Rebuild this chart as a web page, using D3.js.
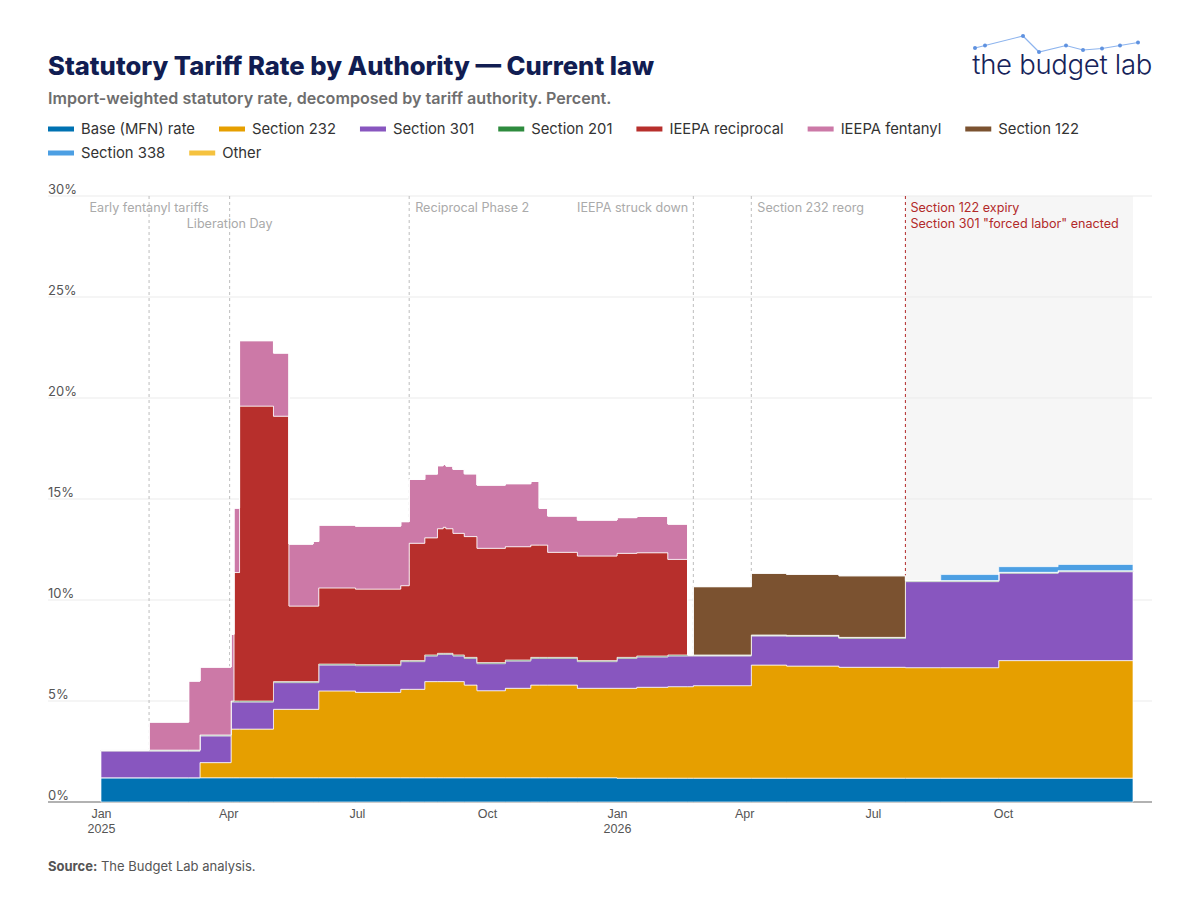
<!DOCTYPE html>
<html>
<head>
<meta charset="utf-8">
<script src="https://cdn.jsdelivr.net/npm/d3@7"></script>
<style>
  body { margin: 0; background: #fff; }
  svg { font-family: Inter, "Noto Sans", sans-serif; }
</style>
</head>
<body>
<div id="chart"></div>
<script>
// step dates (each value holds until the next date)
var dates = ["2025-01-01","2025-02-04","2025-03-04","2025-03-12","2025-04-03","2025-04-05","2025-04-09",
  "2025-05-03","2025-05-14","2025-05-31","2025-06-04","2025-06-30","2025-08-01","2025-08-07","2025-08-18",
  "2025-08-27","2025-08-31","2025-09-02","2025-09-07","2025-09-15","2025-09-24","2025-10-14","2025-11-01",
  "2025-11-07","2025-11-13","2025-12-04","2026-01-01","2026-01-15","2026-02-06","2026-02-20","2026-02-24",
  "2026-04-06","2026-05-01","2026-06-07","2026-07-24","2026-08-18","2026-09-28","2026-11-09","2027-01-01"];

var baseRate = [1.2,1.2,1.2,1.2,1.2,1.2,1.2,1.2,1.2,1.2,1.2,1.2,1.2,1.2,1.2,1.2,1.2,1.2,1.2,1.2,1.2,1.2,1.2,1.2,1.2,1.2,
  1.18,1.18,1.18,1.18,1.18,1.18,1.18,1.18,1.18,1.18,1.18,1.18,1.18];
var sec232 = [0,0,0,0.75,2.41,2.41,2.41,3.39,3.39,3.39,4.3,4.23,4.38,4.38,4.76,4.76,4.76,4.76,4.76,4.59,4.31,4.43,4.59,
  4.59,4.59,4.43,4.45,4.5,4.53,4.53,4.58,5.6,5.55,5.49,5.47,5.47,5.82,5.82,5.82];
var sec301 = [1.32,1.32,1.32,1.32,1.34,1.34,1.34,1.32,1.32,1.32,1.28,1.32,1.37,1.37,1.27,1.35,1.35,1.35,1.27,1.32,1.34,
  1.35,1.32,1.32,1.32,1.32,1.48,1.5,1.52,1.52,1.47,1.44,1.47,1.43,4.26,4.26,4.32,4.4,4.4];
var sec201 = [0.05,0.05,0.05,0.05,0.05,0.05,0.05,0.05,0.05,0.05,0.05,0.05,0.05,0.05,0.05,0.05,0.05,0.05,0.05,0.05,0.05,
  0.05,0.05,0.05,0.05,0.05,0.05,0.05,0.05,0.05,0.05,0.05,0.05,0.05,0.05,0.05,0.05,0.05,0.05];
var ieepaRecip = [0,0,0,0,0,6.36,14.6,13.14,3.74,3.74,3.77,3.74,3.71,5.81,5.8,6.17,6.24,6.17,6.02,5.98,5.66,5.61,5.56,
  5.56,5.2,5.18,5.15,5.11,4.73,0,0,0,0,0,0,0,0,0,0];
var ieepaFent = [0,1.39,3.42,3.36,3.3,3.19,3.24,3.13,3.07,3.2,3.11,3.12,3.17,3.16,3.16,3.12,3.11,3.1,3.17,3.11,3.13,3.12,
  3.15,1.82,1.8,1.78,1.77,1.8,1.75,0,0,0,0,0,0,0,0,0,0];
var sec122 = [0,0,0,0,0,0,0,0,0,0,0,0,0,0,0,0,0,0,0,0,0,0,0,0,0,0,0,0,0,0,3.38,3.05,3.02,3.05,0,0,0,0,0];
var sec338 = [0,0,0,0,0,0,0,0,0,0,0,0,0,0,0,0,0,0,0,0,0,0,0,0,0,0,0,0,0,0,0,0,0,0,0,0.3,0.28,0.31,0.31];
var other = [0,0,0,0,0,0,0,0,0,0,0,0,0,0,0,0,0,0,0,0,0,0,0,0,0,0,0,0,0,0,0,0,0,0,0,0,0,0,0];

var seriesKeys = ["base","s232","s301","s201","recip","fent","s122","s338","other"];
var seriesNames = ["Base (MFN) rate","Section 232","Section 301","Section 201","IEEPA reciprocal",
  "IEEPA fentanyl","Section 122","Section 338","Other"];
var seriesColors = ["#0072B2","#E69F00","#8856BF","#2E8B3E","#B72F2C","#CC79A7","#7B5230","#4C9FE3","#F5C23F"];

var yTicks = [0,5,10,15,20,25,30];
var xTicks = ["2025-01-01","2025-04-01","2025-07-01","2025-10-01","2026-01-01","2026-04-01","2026-07-01","2026-10-01"];

var eventDates = ["2025-02-04","2025-04-02","2025-08-07","2026-02-24","2026-04-06","2026-07-24"];
var eventLabels = [["Early fentanyl tariffs"],["Liberation Day"],["Reciprocal Phase 2"],["IEEPA struck down"],
  ["Section 232 reorg"],["Section 122 expiry","Section 301 \"forced labor\" enacted"]];

var logoPoints = [[0,12],[10,9.5],[48,0],[64,16],[91,9.5],[108,14],[127,12.5],[145,9.5],[163,6.5]];

var width = 1200, height = 900;
var left = 48, right = 1152;

var svg = d3.select("#chart").append("svg")
  .attr("width", width)
  .attr("height", height);

var parse = d3.timeParse("%Y-%m-%d");
var cols = [baseRate, sec232, sec301, sec201, ieepaRecip, ieepaFent, sec122, sec338, other];

var rows = dates.map((d, i) => {
  var r = { date: parse(d) };
  seriesKeys.forEach((k, j) => { r[k] = cols[j][i]; });
  return r;
});

var x = d3.scaleTime()
  .domain([parse("2025-01-01"), parse("2027-01-01")])
  .range([101, 1133]);

var y = d3.scaleLinear()
  .domain([0, 30])
  .range([802, 196]);

var color = d3.scaleOrdinal().domain(seriesKeys).range(seriesColors);

// forecast shading after last event
svg.append("rect")
  .attr("x", x(parse(eventDates[5])))
  .attr("y", y(30))
  .attr("width", x(parse("2027-01-01")) - x(parse(eventDates[5])))
  .attr("height", y(0) - y(30))
  .attr("fill", "#f6f6f6");

// gridlines + y labels
svg.selectAll(".grid")
  .data(yTicks.filter(d => d > 0))
  .enter().append("line")
  .attr("x1", left).attr("x2", right)
  .attr("y1", d => y(d)).attr("y2", d => y(d))
  .attr("stroke", "#ebebeb").attr("stroke-width", 1);

svg.selectAll(".ylab")
  .data(yTicks)
  .enter().append("text")
  .attr("x", left)
  .attr("y", d => y(d) - 2)
  .attr("font-size", 13)
  .attr("fill", "#555")
  .text(d => d + "%");

// axis baseline
svg.append("line")
  .attr("x1", left).attr("x2", right)
  .attr("y1", y(0)).attr("y2", y(0))
  .attr("stroke", "#999").attr("stroke-width", 1.5);

// event lines
var ev = svg.append("g");
eventDates.forEach((d, i) => {
  var red = i == 5;
  ev.append("line")
    .attr("x1", x(parse(d))).attr("x2", x(parse(d)))
    .attr("y1", y(30)).attr("y2", y(0))
    .attr("stroke", red ? "#b22a2a" : "#bdbdbd")
    .attr("stroke-width", 1)
    .attr("stroke-dasharray", "3,3");
});

// stacked areas
var stack = d3.stack().keys(seriesKeys);
var layers = stack(rows);

var area = d3.area()
  .curve(d3.curveStepAfter)
  .x(d => x(d.data.date))
  .y0(d => y(d[0]))
  .y1(d => y(d[1]));

svg.append("g").selectAll("path")
  .data(layers.filter(l => l.some(d => d[1] - d[0] > 0)))
  .enter().append("path")
  .attr("d", area)
  .attr("fill", d => color(d.key))
  .attr("stroke", d => d.key == "s201" ? "#cfcfcf" : "#fff")
  .attr("stroke-opacity", 0.85)
  .attr("stroke-width", 0.8);

// event labels
var labelPlace = [
  { anchor: "middle", dx: 0, row: 0 },
  { anchor: "middle", dx: 0, row: 1 },
  { anchor: "start", dx: 6, row: 0 },
  { anchor: "end", dx: -5, row: 0 },
  { anchor: "start", dx: 6, row: 0 },
  { anchor: "start", dx: 5, row: 0 }
];
eventDates.forEach((d, i) => {
  var p = labelPlace[i];
  eventLabels[i].forEach((t, j) => {
    ev.append("text")
      .attr("x", x(parse(d)) + p.dx)
      .attr("y", 212 + (p.row + j) * 16)
      .attr("text-anchor", p.anchor)
      .attr("font-size", 12.6)
      .attr("fill", i == 5 ? "#b22a2a" : "#aaaaaa")
      .text(t);
  });
});

// x axis
var xAxis = d3.axisBottom(x)
  .tickValues(xTicks.map(parse))
  .tickSize(0)
  .tickFormat(d3.timeFormat("%b"));

var gx = svg.append("g")
  .attr("transform", "translate(0," + y(0) + ")")
  .call(xAxis);
gx.select(".domain").remove();
gx.selectAll("text")
  .attr("font-family", null)
  .attr("font-size", 12.5)
  .attr("fill", "#555")
  .attr("dy", null)
  .attr("y", 16)
  .each(function(d) {
    if (d.getMonth() == 0) {
      d3.select(this).append("tspan")
        .attr("x", 0).attr("y", 31)
        .text(d.getFullYear());
    }
  });

// title block
svg.append("text")
  .attr("x", left).attr("y", 75)
  .attr("font-size", 25.6)
  .attr("font-weight", 800)
  .attr("fill", "#111d52")
  .text("Statutory Tariff Rate by Authority \u2014 Current law");

svg.append("text")
  .attr("x", left).attr("y", 104)
  .attr("font-size", 16.1)
  .attr("font-weight", 600)
  .attr("fill", "#6e6e6e")
  .text("Import-weighted statutory rate, decomposed by tariff authority. Percent.");

// legend
var legend = svg.append("g");
var lx = left, ly = 129;
seriesKeys.forEach((k, i) => {
  var item = legend.append("g");
  item.append("rect")
    .attr("width", 26).attr("height", 5)
    .attr("y", -2.5)
    .attr("fill", color(k));
  var t = item.append("text")
    .attr("x", 33).attr("y", 5)
    .attr("font-size", 14.8)
    .attr("fill", "#333")
    .text(seriesNames[i]);
  var w = 33 + t.node().getComputedTextLength();
  if (lx + w > 1100) { lx = left; ly += 24; }
  item.attr("transform", "translate(" + lx + "," + ly + ")");
  lx += w + 24;
});

// source
svg.append("text")
  .attr("x", left).attr("y", 871)
  .attr("font-size", 13)
  .attr("fill", "#555")
  .call(t => {
    t.append("tspan").attr("font-weight", 700).text("Source:");
    t.append("tspan").text(" The Budget Lab analysis.");
  });

// logo
var logo = svg.append("g").attr("transform", "translate(975,36)");
logo.append("path")
  .attr("d", d3.line()(logoPoints))
  .attr("fill", "none")
  .attr("stroke", "#8db4ee")
  .attr("stroke-width", 1.2);
logo.selectAll("circle")
  .data(logoPoints)
  .enter().append("circle")
  .attr("cx", d => d[0]).attr("cy", d => d[1])
  .attr("r", 2)
  .attr("fill", "#5f92e0");
svg.append("text")
  .attr("x", right).attr("y", 74)
  .attr("text-anchor", "end")
  .attr("font-size", 27.5)
  .attr("font-weight", 300)
  .attr("letter-spacing", -0.3)
  .attr("fill", "#16235a")
  .text("the budget lab");
</script>
</body>
</html>
